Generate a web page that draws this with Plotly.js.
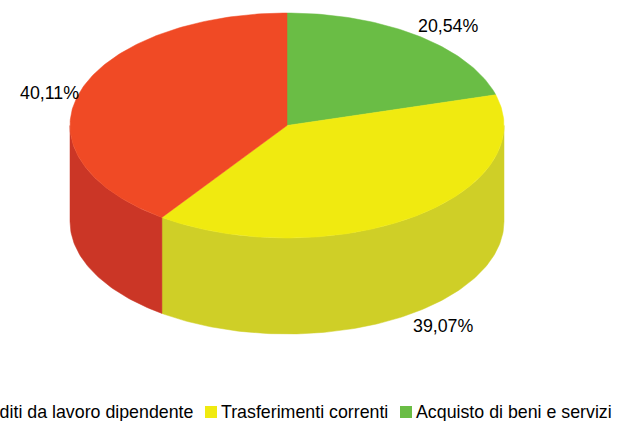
<!DOCTYPE html>
<html><head><meta charset="utf-8">
<script src="https://cdn.plot.ly/plotly-3.0.1.min.js"></script>
<style>html,body{margin:0;padding:0;background:#fff;overflow:hidden}#c{width:619px;height:421px}</style>
</head><body><div id="c"></div>
<script>
// Data (clockwise from 12 o'clock)
const categories = ["Acquisto di beni e servizi", "Trasferimenti correnti", "Redditi da lavoro dipendente"];
const shares = [20.54, 39.07, 40.11];
const shareLabels = ["20,54%", "39,07%", "40,11%"];
const topColors = ["#6abd45", "#f0ea10", "#f04a25"];
const sideColors = ["#559a38", "#cfcf27", "#cb3626"];

// Projection of the disc on to the page-sized axes
const cx = 287, cy = 125.5, rx = 217, ry = 112.5, depth = 96;
const labelX = [448, 443, 49.5], labelY = [26, 326, 92.5];
const legendSwatchX = [400, 205], legendTextX = [414, 219, 195];

const total = shares.reduce((a, b) => a + b, 0);
const pt = (deg, dy) => {
  const r = deg * Math.PI / 180;
  return [cx + rx * Math.sin(r), cy - ry * Math.cos(r) + dy];
};
const arc = (a, b, dy) => {
  const n = Math.max(2, Math.ceil(Math.abs(b - a)));
  const out = [];
  for (let i = 0; i <= n; i++) out.push(pt(a + (b - a) * i / n, dy));
  return out;
};
const poly = (pts, color, name) => ({
  type: "scatter", mode: "lines", x: pts.map(p => p[0]), y: pts.map(p => p[1]),
  fill: "toself", fillcolor: color, line: {width: 0.5, color: color}, name: name,
  hoverinfo: "name", showlegend: false
});

const sides = [], tops = [];
let start = 0;
shares.forEach((s, i) => {
  const end = start + s / total * 360;
  const a = Math.max(start, 90), b = Math.min(end, 270);
  if (b > a) sides.push(poly(arc(a, b, 0).concat(arc(b, a, depth)).concat([pt(a, 0)]), sideColors[i], categories[i]));
  tops.push(poly([[cx, cy]].concat(arc(start, end, 0)).concat([[cx, cy]]), topColors[i], categories[i]));
  start = end;
});

const font = {family: "Liberation Sans, Arial, sans-serif", size: 17.8, color: "#000"};
const annotations = shareLabels.map((t, i) => ({
  xref: "x", yref: "y", x: labelX[i], y: labelY[i], text: t, showarrow: false,
  xanchor: "center", yanchor: "middle", font: font
})).concat(categories.map((t, i) => ({
  xref: "x", yref: "y", x: legendTextX[i], y: 411.5, text: t, showarrow: false,
  xanchor: i === 2 ? "right" : "left", yanchor: "middle", font: font
})));
const shapes = legendSwatchX.map((x, i) => ({
  type: "rect", xref: "x", yref: "y", x0: x, x1: x + 12, y0: 406, y1: 418,
  fillcolor: topColors[i], line: {width: 0}
}));

Plotly.newPlot("c", sides.concat(tops), {
  width: 619, height: 421, margin: {l: 0, r: 0, t: 0, b: 0},
  paper_bgcolor: "#fff", plot_bgcolor: "#fff", showlegend: false,
  xaxis: {range: [0, 619], visible: false, fixedrange: true},
  yaxis: {range: [421, 0], visible: false, fixedrange: true},
  annotations: annotations, shapes: shapes
}, {displayModeBar: false, staticPlot: true});
</script></body></html>
